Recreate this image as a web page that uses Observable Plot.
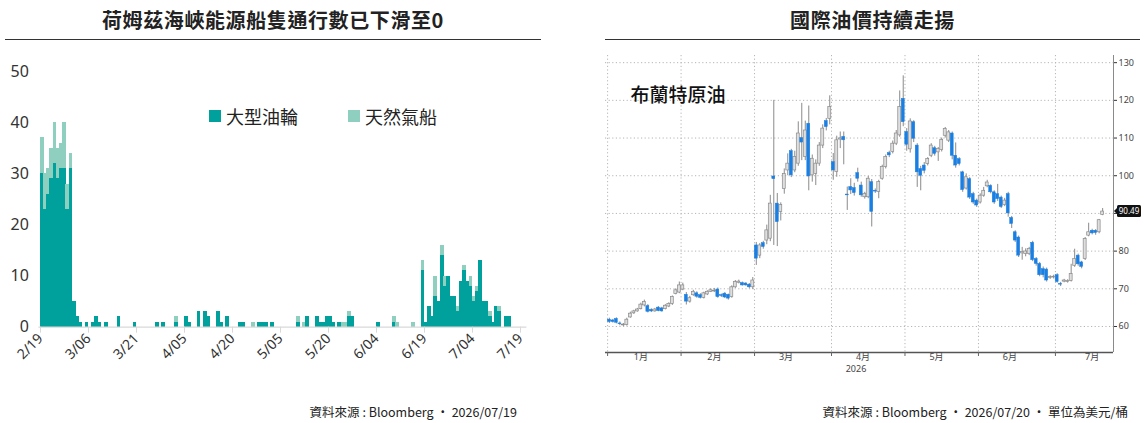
<!DOCTYPE html>
<html><head><meta charset="utf-8">
<script src="https://cdn.jsdelivr.net/npm/d3@7"></script>
<script src="https://cdn.jsdelivr.net/npm/@observablehq/plot@0.6"></script>
<style>
body{margin:0;width:1144px;height:423px;position:relative;background:#fff;overflow:hidden;font-family:"Noto Sans CJK TC","Noto Sans",sans-serif}
.abs{position:absolute}
.title{font-size:20px;font-weight:700;color:#222;text-align:center;top:6px;letter-spacing:0.6px;line-height:28px}
.rule{height:1px;background:#333;top:39px}
.foot{font-size:12.5px;color:#222;top:403px;text-align:right;line-height:18px}
.leg{font-size:18px;color:#222;top:104px;line-height:24px}
.sw{width:12px;height:12px;top:110px}
svg{overflow:visible}
</style></head><body>
<div class="abs title" style="left:5px;width:536px">荷姆茲海峽能源船隻通行數已下滑至0</div>
<div class="abs rule" style="left:5px;width:536px"></div>
<div class="abs title" style="left:605px;width:535px">國際油價持續走揚</div>
<div class="abs rule" style="left:605px;width:535px"></div>
<div id="left" class="abs" style="left:0;top:40px"></div>
<div id="right" class="abs" style="left:600px;top:40px"></div>
<div class="abs sw" style="left:209px;background:#00a19d"></div>
<div class="abs leg" style="left:226px">大型油輪</div>
<div class="abs sw" style="left:348px;background:#8ecfbf"></div>
<div class="abs leg" style="left:365px">天然氣船</div>
<div class="abs foot" style="left:200px;width:317px">資料來源 : Bloomberg · 2026/07/19</div>
<div class="abs foot" style="left:700px;width:428px">資料來源 : Bloomberg · 2026/07/20 · 單位為美元/桶</div>
<script>
// ---------- Left chart: ships through Hormuz (day index from 2/19) ----------
const shipDays = [0,1,2,3,4,5,6,7,8,9,10,11,12,14,16,17,18,20,24,29,36,38,42,45,46,49,51,52,55,56,58,62,63,66,68,69,70,72,80,82,83,86,87,88,89,90,91,93,94,95,96,97,105,110,111,116,119,120,121,122,123,124,125,126,127,128,129,130,131,132,133,134,135,136,137,138,139,140,141,142,143,145,146];
const tankers  = [30,23,26,29,32,29,31,31,23,31,5,2,1,1,1,2,1,1,2,1,1,1,1,2,1,3,3,2,3,1,2,1,1,0,1,1,1,1,1,0,2,2,1,1,2,2,1,1,0,0,2,2,1,1,0,0,11,1,4,2,6,5,14,8,10,6,6,3,9,11,9,8,5,7,13,5,5,2,1,4,3,2,2];
const lngShips = [7,7,5,6,8,6,5,9,5,3,0,0,0,0,0,0,0,0,0,0,0,0,1,0,0,0,0,0,0,0,0,0,0,1,0,0,0,0,1,1,0,0,0,0,0,0,0,0,1,1,1,0,0,1,1,1,2,0,0,0,4,0,2,2,0,0,0,1,0,1,0,2,1,1,0,0,0,1,0,0,1,0,0];
const xTickDays = [0,15,30,45,60,75,90,105,120,135,150];
const xTickLabels = ["2/19","3/06","3/21","4/05","4/20","5/05","5/20","6/04","6/19","7/04","7/19"];
const seriesNames = ["大型油輪","天然氣船"];

const shipRows = [];
shipDays.forEach((d, i) => {
  if (tankers[i] > 0) shipRows.push({day: d, y1: 0, y2: tankers[i], type: seriesNames[0]});
  if (lngShips[i] > 0) shipRows.push({day: d, y1: tankers[i], y2: tankers[i] + lngShips[i], type: seriesNames[1]});
});
const xLabelMap = new Map(xTickDays.map((d, i) => [d, xTickLabels[i]]));

const left = Plot.plot({
  width: 545, height: 340,
  marginLeft: 38.4, marginRight: 18.6, marginTop: 31, marginBottom: 53.3,
  x: {domain: [-0.5, 152]},
  y: {domain: [0, 50]},
  color: {domain: seriesNames, range: ["#00a19d", "#8ecfbf"]},
  style: {fontFamily: '"Noto Sans","Noto Sans CJK TC",sans-serif', color: "#333", background: "transparent"},
  marks: [
    Plot.rect(shipRows, {x1: "day", x2: d => d.day + 1, y1: "y1", y2: "y2", fill: "type",
      insetLeft: -0.3, insetRight: -0.3, shapeRendering: "crispEdges"}),
    Plot.ruleY([0], {stroke: "#d9d9d9", strokeWidth: 1.2}),
    Plot.axisX({ticks: xTickDays, tickFormat: d => xLabelMap.get(d), tickRotate: -45, tickSize: 6, tickPadding: 3,
                stroke: "#d9d9d9", fill: "#333", fontSize: 14, label: null}),
    Plot.axisY({ticks: [0,10,20,30,40,50], tickSize: 0, tickPadding: 10, fontSize: 16, fill: "#333", label: null})
  ]
});
document.getElementById("left").appendChild(left);

// ---------- Right chart: Brent candlesticks (trading-day index) ----------
const open  = [61.8,61.6,62.0,60.8,60.3,60.4,62.4,63.5,64.0,64.6,65.6,65.4,64.4,64.0,65.0,64.8,64.6,65.3,66.0,68.6,69.0,
  69.8,68.4,66.6,68.3,68.8,68.3,67.6,68.5,69.2,69.3,69.8,68.3,68.7,68.4,67.8,70.4,71.6,71.5,71.4,71.1,70.4,
  81.5,78.8,82.1,82.8,83.3,99.8,92.6,90.4,96.5,101.4,106.5,101.4,103.2,110.0,105.0,113.8,100.1,100.5,103.2,108.0,114.5,115.1,
  103.6,101.0,109.6,110.3,95.0,97.0,96.7,100.7,97.4,94.3,94.3,98.3,96.0,95.7,99.2,102.3,106.0,106.3,108.5,110.7,120.4,
  111.6,107.0,114.2,108.0,101.8,102.7,103.1,105.3,107.3,106.2,106.8,110.6,109.3,111.2,105.3,104.4,100.9,96.6,99.1,95.1,93.4,
  92.9,94.7,97.2,97.3,95.6,95.1,94.2,92.2,95.1,88.8,85.0,83.6,79.4,79.2,79.2,82.2,77.9,76.6,75.2,75.1,72.9,73.0,
  73.6,71.3,71.9,71.8,72.1,76.1,78.8,77.0,77.9,84.1,85.4,85.4,85.0,89.6];
const high  = [62.2,61.9,62.3,61.2,60.8,62.2,63.8,64.3,64.8,66.2,67.0,65.8,64.7,64.8,65.3,65.1,65.8,66.3,68.1,70.0,71.8,
  71.5,69.0,68.0,69.6,69.2,68.7,69.1,69.5,70.0,70.1,70.2,68.6,69.0,68.6,70.8,72.2,72.3,71.8,71.6,71.4,73.0,
  82.3,82.0,82.6,86.9,94.8,120.0,95.3,92.8,101.8,105.8,107.0,106.5,114.3,119.2,114.5,118.5,105.5,104.2,108.8,113.5,115.2,121.2,
  105.9,110.5,111.6,111.6,97.0,99.2,98.0,102.0,98.3,95.6,99.8,99.0,96.5,98.8,102.8,105.5,106.5,109.2,112.0,122.5,126.5,
  112.5,115.1,114.6,108.5,102.5,103.5,104.8,108.5,107.8,107.5,110.0,112.8,112.0,111.6,108.7,104.8,101.2,100.5,99.5,95.6,93.8,
  95.2,96.9,98.8,97.6,96.0,97.7,94.6,94.0,95.6,89.2,85.4,84.0,81.0,80.6,81.0,82.6,78.3,77.0,75.8,75.5,73.5,73.6,
  74.0,71.7,72.5,72.4,76.5,80.5,79.2,77.3,83.6,87.4,85.8,85.7,88.4,91.3];
const low   = [60.8,60.9,60.7,60.2,60.0,60.1,62.2,63.2,63.8,64.4,65.2,63.6,63.7,63.8,63.9,63.8,64.4,65.0,65.6,68.4,68.7,
  69.5,65.7,66.2,68.0,67.5,67.3,67.3,68.2,69.0,69.0,67.5,67.7,67.4,67.0,67.5,70.1,71.3,70.7,70.7,70.0,69.8,
  76.2,78.0,80.5,81.7,82.5,81.5,81.2,88.0,95.1,100.0,99.5,100.8,102.5,104.0,104.0,96.0,98.3,97.4,102.5,107.2,111.9,113.5,
  98.8,99.6,107.2,102.9,90.8,95.0,94.6,98.3,94.3,93.8,93.9,86.4,95.3,93.9,98.8,101.8,104.8,105.8,108.0,110.2,113.0,
  106.5,106.0,108.8,96.9,96.0,100.5,102.6,104.8,105.2,103.8,106.3,110.0,108.8,104.2,102.0,102.6,95.6,96.2,93.7,92.4,91.6,
  92.5,94.3,96.8,95.2,92.4,93.2,91.3,91.8,89.0,86.0,82.3,78.3,77.6,78.5,78.8,77.2,76.0,73.2,72.9,71.8,72.5,72.6,
  71.5,70.6,71.6,71.5,71.8,75.7,76.0,75.3,77.5,83.8,84.3,84.2,84.6,89.4];
const close = [61.2,61.2,61.0,60.6,60.5,61.8,63.4,64.0,64.5,65.8,66.5,63.9,64.0,64.5,64.1,64.0,65.5,66.0,67.8,69.6,70.9,
  70.9,66.6,67.5,69.2,67.9,67.6,68.8,69.2,69.6,69.5,67.8,68.1,67.7,67.4,70.4,71.8,71.9,70.9,70.9,70.4,72.2,
  78.0,81.5,81.1,85.5,92.6,99.1,87.7,92.2,100.5,103.2,100.1,105.0,111.2,108.8,112.0,99.8,104.5,103.2,108.0,112.5,112.9,118.2,
  101.4,109.4,109.9,109.4,94.8,96.1,95.4,99.2,94.8,95.2,99.2,90.4,95.8,98.3,102.3,105.0,105.4,108.5,111.2,118.2,114.2,
  108.2,114.4,109.8,100.9,100.0,101.3,104.4,108.0,105.8,107.1,109.5,112.4,111.5,105.3,102.7,103.1,96.2,99.6,94.2,92.9,92.1,
  94.7,96.0,98.2,95.6,92.9,93.8,91.7,93.4,90.0,87.2,82.8,78.8,79.8,79.9,80.6,77.6,76.6,73.6,73.6,72.2,73.1,73.2,
  71.8,71.1,72.2,72.1,73.9,77.9,76.5,75.8,83.2,85.0,84.7,84.8,88.2,90.49];
const monthBounds   = [-0.5, 20.5, 41.5, 63.5, 84.5, 105.5, 127.5];
const monthLabelPos = [9, 30, 50.5, 72.5, 93.5, 114.5, 138];
const monthLabels   = ["1月","2月","3月","4月","5月","6月","7月"];
const priceTicks    = [60, 70, 80, 90, 100, 110, 120, 130];
const xDomain = [-1.1, 144.1];
const yDomain = [53.1, 131.9];

const candles = open.map((o, i) => ({i, o, h: high[i], l: low[i], c: close[i]}));
const upC = candles.filter(d => d.c >= d.o);
const downC = candles.filter(d => d.c < d.o);
const monthMap = new Map(monthLabelPos.map((p, i) => [p, monthLabels[i]]));
const grid = {stroke: "#b5b5b5", strokeDasharray: "1.2,2.4", strokeWidth: 1};
const lastClose = close[close.length - 1];
const labelTicks = priceTicks.filter(t => Math.abs(t - lastClose) > 3); // the price tag hides the nearest label

const right = Plot.plot({
  width: 544, height: 340,
  marginLeft: 5, marginRight: 31, marginTop: 15, marginBottom: 28,
  x: {domain: xDomain},
  y: {domain: yDomain},
  style: {fontFamily: '"Noto Sans","Noto Sans CJK TC",sans-serif', color: "#444", background: "transparent"},
  marks: [
    Plot.ruleY(priceTicks, grid),
    Plot.ruleX(monthBounds, grid),
    Plot.ruleX(candles, {x: "i", y1: "l", y2: "h", stroke: "#8a8a8a", strokeWidth: 1}),
    Plot.rect(upC, {x1: d => d.i - 0.42, x2: d => d.i + 0.42, y1: "o", y2: "c", fill: "#dedede", stroke: "#8a8a8a", strokeWidth: 0.7}),
    Plot.rect(downC, {x1: d => d.i - 0.42, x2: d => d.i + 0.42, y1: "c", y2: "o", fill: "#1a7fe2", stroke: "#1a7fe2", strokeWidth: 0.5}),
    Plot.ruleY([yDomain[0]], {stroke: "#555", strokeWidth: 1.5}),
    Plot.ruleX([xDomain[1]], {stroke: "#8a8a8a", strokeWidth: 1}),
    Plot.axisY({anchor: "right", ticks: priceTicks, tickFormat: () => "", tickSize: 3, stroke: "#333", label: null}),
    Plot.axisY({anchor: "right", ticks: labelTicks, tickSize: 0, tickPadding: 5, fontSize: 9, fill: "#444", label: null}),
    Plot.axisX({ticks: monthBounds, tickFormat: () => "", tickSize: 4, stroke: "#666", label: null}),
    Plot.axisX({ticks: monthLabelPos, tickFormat: d => monthMap.get(d), tickSize: 0, tickPadding: 1, fontSize: 9, fill: "#444", label: null}),
    Plot.text(["2026"], {x: monthLabelPos[3] - 2, frameAnchor: "bottom", dy: 19, fontSize: 9, fill: "#444"}),
    Plot.text(["布蘭特原油"], {frameAnchor: "top-left", dx: 25, dy: 33, textAnchor: "start", fontSize: 19, fill: "#111",
      fontFamily: '"Noto Sans CJK TC",sans-serif', fontWeight: 500})
  ]
});
document.getElementById("right").appendChild(right);

// last price tag at the right axis, positioned through the plot's own scales
const sx = right.scale("x"), sy = right.scale("y");
const tx = sx.apply(xDomain[1]), ty = sy.apply(lastClose);
const tag = d3.select(right).append("g");
tag.append("path").attr("d", `M${tx + 1},${ty} l4,-4 v8 z`).attr("fill", "#111");
tag.append("rect").attr("x", tx + 4).attr("y", ty - 6).attr("width", 24).attr("height", 12).attr("rx", 1.5).attr("fill", "#111");
tag.append("text").attr("x", tx + 16).attr("y", ty).attr("dy", "0.35em").attr("text-anchor", "middle")
  .attr("fill", "#fff").attr("font-size", 8).attr("font-family", '"Noto Sans",sans-serif').text(lastClose.toFixed(2));
</script>
</body></html>
